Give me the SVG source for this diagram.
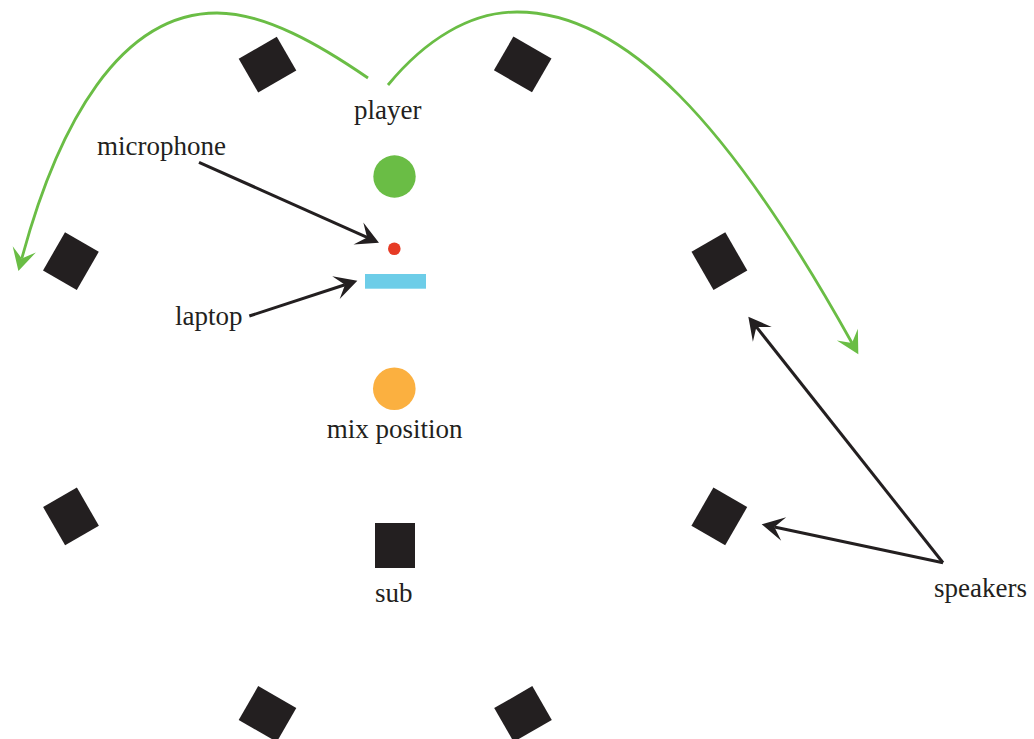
<svg xmlns="http://www.w3.org/2000/svg" width="1034" height="739" viewBox="0 0 1034 739">
<style>
.spk{fill:#231f20}
.lbl{font-family:"Liberation Serif","Times New Roman",serif;font-size:27px;fill:#231f20}
.blk{fill:none;stroke:#231f20;stroke-width:3}
.grn{fill:none;stroke:#6abd45;stroke-width:2.8}
</style>
<defs>
<marker id="ab" viewBox="-10 -12 24 24" refX="0" refY="0" markerWidth="24" markerHeight="24" markerUnits="userSpaceOnUse" orient="auto" overflow="visible">
<path d="M13,0 L-9.5,-12 L0,0 L-9.5,12 Z" fill="#231f20"/>
</marker>
<marker id="ag" viewBox="-10 -12 24 24" refX="0" refY="0" markerWidth="24" markerHeight="24" markerUnits="userSpaceOnUse" orient="auto" overflow="visible">
<path d="M13,0 L-9.5,-12 L0,0 L-9.5,12 Z" fill="#6abd45"/>
</marker>
</defs>
<rect width="1034" height="739" fill="#ffffff"/>
<g id="speakers">
<rect class="spk" x="-22" y="-19.5" width="44" height="39" transform="translate(267.5,64.7) rotate(-30)"/>
<rect class="spk" x="-22" y="-19.5" width="44" height="39" transform="translate(522.7,64.4) rotate(30)"/>
<rect class="spk" x="-22" y="-19.5" width="44" height="39" transform="translate(70.9,261.1) rotate(-60)"/>
<rect class="spk" x="-22" y="-19.5" width="44" height="39" transform="translate(719.4,261.1) rotate(60)"/>
<rect class="spk" x="-22" y="-19.5" width="44" height="39" transform="translate(71,516.4) rotate(60)"/>
<rect class="spk" x="-22" y="-19.5" width="44" height="39" transform="translate(719.3,516.4) rotate(-60)"/>
<rect class="spk" x="-22" y="-19.5" width="44" height="39" transform="translate(267.5,714) rotate(30)"/>
<rect class="spk" x="-22" y="-19.5" width="44" height="39" transform="translate(523,714) rotate(-30)"/>
</g>
<g id="player">
<circle cx="394.5" cy="176.5" r="21.2" fill="#6abd45"/>
<text class="lbl" x="354" y="119">player</text>
</g>
<g id="microphone">
<circle cx="394.3" cy="248.7" r="6.3" fill="#e63b25"/>
<text class="lbl" x="97" y="155">microphone</text>
</g>
<g id="laptop">
<rect x="365" y="274" width="61" height="14.7" fill="#6dcde8"/>
<text class="lbl" x="175" y="325">laptop</text>
</g>
<g id="mix">
<circle cx="394.3" cy="388.7" r="21.3" fill="#fbb040"/>
<text class="lbl" x="394.7" y="437.5" text-anchor="middle">mix position</text>
</g>
<g id="sub">
<rect x="375" y="523" width="40" height="45" fill="#231f20"/>
<text class="lbl" x="393.7" y="602" text-anchor="middle">sub</text>
</g>
<g id="speakers-label">
<text class="lbl" x="934" y="597">speakers</text>
</g>
<g id="connectors">
<path class="grn" d="M368,78 C320,45 265,13 217,13 C120,13 58,124 21.8,258.5" marker-end="url(#ag)"/>
<path class="grn" d="M388,85 C425,40 470,12 517,12 C625,12 730,124 852,343" marker-end="url(#ag)"/>
<path class="blk" d="M199,162.3 L367.1,237.4" marker-end="url(#ab)"/>
<path class="blk" d="M249.3,316 L345,284.7" marker-end="url(#ab)"/>
<path class="blk" d="M943,562.7 L756.4,326.9" marker-end="url(#ab)"/>
<path class="blk" d="M943,562.7 L774.4,527" marker-end="url(#ab)"/>
</g>
</svg>
